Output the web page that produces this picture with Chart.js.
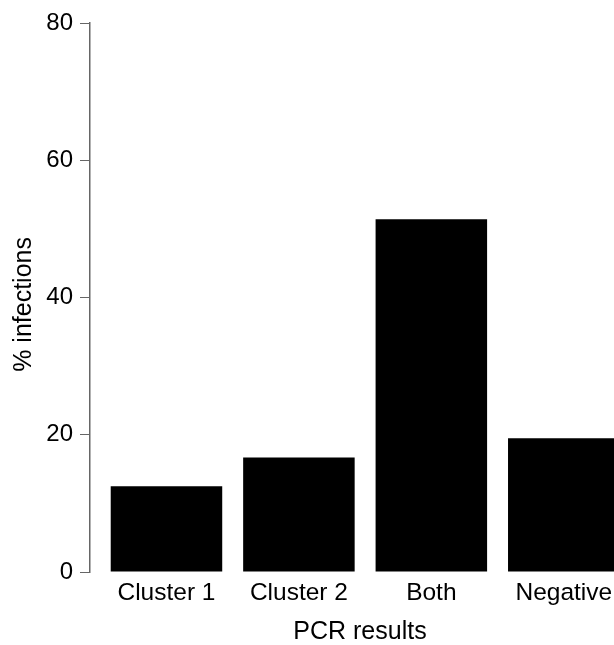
<!DOCTYPE html>
<html>
<head>
<meta charset="utf-8">
<script src="https://cdn.jsdelivr.net/npm/chart.js@4/dist/chart.umd.min.js"></script>
<style>
  body { margin: 0; background: #fff; }
  #wrap { width: 614px; height: 645px; overflow: hidden; }
</style>
</head>
<body>
<div id="wrap"><canvas id="pcrChart" width="630" height="645"></canvas></div>
<script>
// Data: % of infections per PCR result
const categories = ["Cluster 1", "Cluster 2", "Both", "Negative"];
const percentInfections = [12.5, 16.7, 51.4, 19.5];
const yTicks = [0, 20, 40, 60, 80];

const FONT = "'Liberation Sans', Arial, sans-serif";

window.onload = () => {
  initPcrChart();
};

function initPcrChart() {
  const ctx = document.getElementById("pcrChart").getContext("2d");
  new Chart(ctx, {
    type: "bar",
    data: {
      datasets: [
        {
          data: categories.map((c, i) => ({ x: i, y: percentInfections[i] })),
          backgroundColor: "#000",
          borderWidth: 0,
          categoryPercentage: 1,
          barPercentage: 0.842,
        },
      ],
    },
    options: {
      responsive: false,
      animation: false,
      layout: { padding: { top: 23, left: 0, right: 0, bottom: 0 } },
      plugins: { legend: { display: false }, tooltip: { enabled: false } },
      scales: {
        x: {
          type: "linear",
          offset: false,
          min: -0.5774,
          max: 3.5,
          grid: { display: false },
          border: { display: false },
          afterBuildTicks: (s) => {
            s.ticks = categories.map((c, i) => ({ value: i }));
          },
          afterFit: (s) => { s.height = 73; },
          ticks: {
            autoSkip: false,
            maxRotation: 0,
            padding: -1,
            color: "#000",
            font: { family: FONT, size: 24.5 },
            callback: (v) => categories[v],
          },
          title: {
            display: true,
            text: "PCR results",
            color: "#000",
            font: { family: FONT, size: 25, lineHeight: 1 },
            padding: { top: 0, bottom: 0 },
          },
        },
        y: {
          min: 0,
          max: 80,
          afterBuildTicks: (s) => {
            s.ticks = yTicks.map((v) => ({ value: v }));
          },
          afterFit: (s) => { s.width = 90; },
          grid: {
            drawOnChartArea: false,
            color: "#666",
            tickLength: 10,
          },
          border: { color: "#666", width: 1.5 },
          ticks: {
            padding: 7,
            color: "#000",
            font: { family: FONT, size: 24 },
          },
          title: {
            display: true,
            text: "% infections  ",
            color: "#000",
            font: { family: FONT, size: 25 },
            padding: { top: 9, bottom: 0 },
          },
        },
      },
    },
  });
}
</script>
</body>
</html>
